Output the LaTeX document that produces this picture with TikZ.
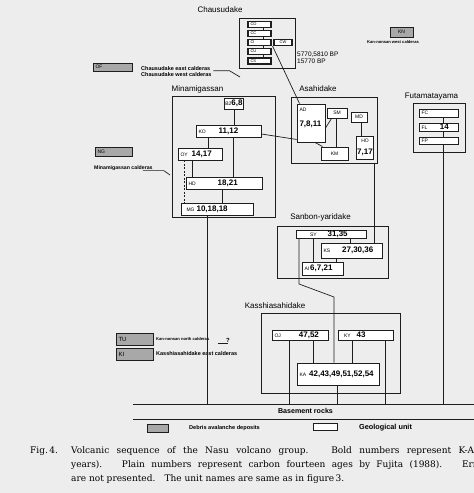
\documentclass[tikz,border=0pt]{standalone}
\usepackage{fontspec}
\setmainfont{DejaVu Serif}
\setsansfont{Liberation Sans}
\usetikzlibrary{calc}
\definecolor{paper}{HTML}{EDEDED}
\definecolor{ink}{HTML}{1E1E1E}
\definecolor{debris}{HTML}{A8A8A8}

\newcommand{\ccode}[1]{{\fontsize{4}{5}\selectfont #1}}
\newcommand{\ucode}[1]{{\fontsize{5}{6}\selectfont #1}}
\newcommand{\uage}[1]{{\fontsize{8}{9}\selectfont\bfseries #1}}

\tikzset{
  frame/.style 2 args={draw=ink, line width=0.7pt, minimum width=#1pt, minimum height=#2pt, inner sep=0pt},
  ubox/.style 2 args={draw=ink, fill=white, line width=0.9pt, minimum width=#1pt, minimum height=#2pt,
    text width=#1pt-5pt, inner xsep=2.5pt, inner ysep=0pt, align=left, font=\sffamily},
  ucbox/.style 2 args={draw=ink, fill=white, line width=0.9pt, minimum width=#1pt, minimum height=#2pt,
    inner sep=0.5pt, align=center, font=\sffamily},
  cbox/.style 2 args={ubox={#1}{#2}, fill=debris},
  title/.style={font=\sffamily\fontsize{8}{9}\selectfont, inner sep=0pt},
  note/.style={font=\sffamily\bfseries\fontsize{#1}{#1}\selectfont, inner sep=0pt},
  link/.style={draw=ink, line width=0.7pt},
  captext/.style={font=\fontsize{9}{14.3}\selectfont, inner sep=0pt},
}

\begin{document}
\begin{tikzpicture}[x=1pt, y=-1pt]
  \fill[paper] (0,0) rectangle (474,493);
  \useasboundingbox (0,0) rectangle (474,493);

  % Chausudake
  \node[frame={56}{50}] (chausu) at (267,43) {};
  \node[title] (chausuT) at (220,10) {Chausudake};
  \foreach \nm/\y in {CO/24.5, CC/33.5, CI/42.5, CU/51.5, CS/61}
    \node[ubox={23}{6}, line width=1.1pt] (\nm) at (259.5,\y) {\ccode{\nm}};
  \node[ucbox={18}{6}, line width=1.1pt] (CW) at (283,42.5) {\ccode{CW}};
  \node[font=\sffamily\fontsize{6.5}{7.5}\selectfont, inner sep=0pt, anchor=west, align=left] (bp) at (297,58) {5770,5810 BP\\15770 BP};

  % calderas, left side
  \node[cbox={39}{8}] (OF) at (112.5,67) {\ucode{OF}};
  \node[note=5.5, anchor=west] (chE) at (141,68.5) {Chausudake east calderas};
  \node[note=5.5, anchor=west] (chW) at (141,75) {Chausudake west calderas};
  \coordinate (chtip) at (240,77);
  \node[cbox={37}{9}] (NG) at (113.5,151.5) {\ucode{NG}};
  \node[note=5.2, anchor=west] (mgC) at (94,168) {Minamigassan calderas};
  \coordinate (mgtip) at (170,175);
  \node[cbox={37}{12}] (TU) at (134.5,339) {\fontsize{6}{7}\selectfont TU};
  \node[cbox={37}{12}] (KI) at (134.5,354) {\fontsize{6}{7}\selectfont KI};
  \node[note=4.1, anchor=west] (tuN) at (156,339) {Kan-nonsan north calderas};
  \node[note=5.5, anchor=west] (kiE) at (156,354) {Kasshiasahidake east calderas};
  \node[note=6] (qm) at (228,340) {?};

  % Kan-nonsan
  \node[cbox={23}{10}, align=center] (KN) at (401.5,32) {\ucode{KN}};
  \node[note=4.1] (knW) at (393,42.5) {Kan-nonsan west calderas};

  % Minamigassan
  \node[frame={103}{121}] (minami) at (223.5,156.5) {};
  \node[title] (minamiT) at (197.5,89) {Minamigassan};
  \node[ucbox={18}{11}] (B26) at (234,103.5) {\ucode{B2}\uage{6,8}};
  \node[ubox={65}{12}] (KO) at (228.5,131) {\ucode{KO}\hspace{13pt}\uage{11,12}};
  \node[ubox={44}{12}] (OY) at (200,154) {\ucode{OY}\hspace{4pt}\uage{14,17}};
  \node[ubox={76}{12}] (HD) at (224,183) {\ucode{HD}\hspace{22pt}\uage{18,21}};
  \node[ubox={72}{12}] (MG) at (217,209) {\hspace{3pt}\ucode{MG}\hspace{2pt}\uage{10,18,18}};

  % Asahidake
  \node[frame={86}{66}] (asahi) at (334,130) {};
  \node[title] (asahiT) at (318,89) {Asahidake};
  \node[ubox={28}{38}] (AD) at (311,123) {\ucode{AD}\\[3pt]\uage{7,8,11}\\[-1.4pt]\mbox{}};
  \node[ucbox={20}{10}] (SM) at (337,113) {\ucode{SM}};
  \node[ucbox={16}{10}] (MD) at (359,117) {\ucode{MD}};
  \node[ucbox={17}{23}] (HO) at (365,147.5) {\ucode{HO}\\[0pt]\uage{7,17}};
  \node[ucbox={27}{13}] (KM) at (334.5,153.5) {\ucode{KM}};

  % Futamatayama
  \node[frame={52}{49}] (futama) at (439,127.5) {};
  \node[title] (futamaT) at (431.5,97) {Futamatayama};
  \node[ubox={39}{8}] (FC) at (438.5,113) {\ucode{FC}};
  \node[ubox={39}{8}] (FL) at (438.5,127) {\ucode{FL}\hspace{12.5pt}\uage{14}};
  \node[ubox={39}{7}] (FP) at (438.5,140.5) {\ucode{FP}};

  % Sanbon-yaridake
  \node[frame={111}{52}] (sanbon) at (332.5,252) {};
  \node[title] (sanbonT) at (320.5,217) {Sanbon-yaridake};
  \node[ubox={70}{8}] (SY) at (331,234) {\hspace{11.5pt}\ucode{SY}\hspace{11pt}\uage{31,35}};
  \node[ubox={61}{15}] (KS) at (351.5,250.5) {\ucode{KS}\hspace{12pt}\uage{27,30,36}};
  \node[ubox={41}{13}] (AI) at (322.5,268.5) {\ucode{AI}\hspace{1pt}\uage{6,7,21}};
  \coordinate (bend1) at (299,284);
  \coordinate (bend2) at (334,297);

  % Kasshiasahidake
  \node[frame={139}{80}] (kasshi) at (330.5,353) {};
  \node[title] (kasshiT) at (275,306) {Kasshiasahidake};
  \node[ubox={56}{10}] (OJ) at (300,335) {\ucode{OJ}\hspace{18pt}\uage{47,52}};
  \node[ubox={55}{10}] (KY) at (365.5,335) {\hspace{3.5pt}\ucode{KY}\hspace{6pt}\uage{43}};
  \node[ubox={82}{22}] (KA) at (338,374) {\ucode{KA}\hspace{3pt}\uage{42,43,49,51,52,54}};

  % basement and legend
  \coordinate (bTL) at (133,404);
  \coordinate (bTR) at (474,404);
  \coordinate (bBL) at (133,419);
  \coordinate (bBR) at (474,419);
  \node[note=7.1] (base) at (305.5,411) {Basement rocks};
  \node[cbox={21}{8}] (legD) at (157.5,428) {};
  \node[note=5.6, anchor=west] (legDT) at (189,428) {Debris avalanche deposits};
  \node[ucbox={24}{7}] (legG) at (325,426.5) {};
  \node[note=7.3, anchor=west] (legGT) at (359,428) {Geological unit};

  % caption
  \node[captext, anchor=base west] (fig) at (30,453) {Fig.\,4.};
  \node[captext, anchor=north west, align=left] (cap) at (71,446)
    {\makebox[403pt][s]{Volcanic sequence of the Nasu volcano group.\hspace{0.6em} Bold numbers represent K-A}\\
     \makebox[406pt][s]{years).\hspace{0.6em} Plain numbers represent carbon fourteen ages by Fujita (1988).\hspace{0.6em} Err}\\
     are not presented.\hspace{0.6em} The unit names are same as in figure\,3.};

  % connectors
  \foreach \a/\b in {CO/CC, CC/CI, CI/CU, CU/CS}
    \draw[link] ([xshift=3.5pt]\a.south) -- ([xshift=3.5pt]\b.north);
  \draw[link] ([xshift=1pt]CI.south east) -- ([xshift=3pt]AD.north west);
  \draw[link] ([xshift=3pt]chE.south east) -- ++(16,0) -- (chtip);
  \draw[link] ([xshift=-10pt]mgC.south east) -- ++(21,0) -- (mgtip);
  \draw[link] ([xshift=-10pt,yshift=-1pt]qm.south) -- ([yshift=-1pt]qm.south);

  \draw[link] (B26.south) -- (B26.south |- KO.north);
  \draw[link] ([xshift=8pt]OY.north) -- ([xshift=8pt]OY.north |- KO.south);
  \draw[link] ([xshift=9pt]HD.north) -- ([xshift=9pt]HD.north |- KO.south);
  \draw[link] ([xshift=-8pt]OY.south) -- ([xshift=-8pt]OY.south |- HD.north);
  \draw[link, dash pattern=on 2pt off 1.5pt] ([xshift=-16pt]OY.south) -- ([xshift=-16pt]OY.south |- MG.north);
  \draw[link] ([xshift=-2pt]HD.south) -- ([xshift=-2pt]HD.south |- MG.north);
  \draw[link] ([xshift=-10pt]MG.south) -- ([xshift=-10pt]MG.south |- bTL);
  \draw[link] ([yshift=-3pt]KO.east) -- ([yshift=3pt]AD.south west);

  \draw[link] ([xshift=4pt]AD.south) -- ([xshift=2pt]KM.north west);
  \draw[link] ([xshift=5pt]SM.south west) -- ([yshift=-5pt]AD.east);
  \draw[link] ([xshift=-1pt]SM.south) -- ([xshift=-1pt]SM.south |- KM.north);
  \draw[link] ([xshift=2pt]MD.south) -- ([xshift=2pt]MD.south |- HO.north);
  \draw[link] ([xshift=-3pt]asahi.south east) -- ([xshift=-3pt]asahi.south east |- KS.north);

  \foreach \a/\b in {FC/FL, FL/FP}
    \draw[link] ([xshift=4.5pt]\a.south) -- ([xshift=4.5pt]\b.north);
  \draw[link] ([xshift=4.5pt]FP.south) -- ([xshift=4.5pt]FP.south |- bTL);

  \draw[link] ([xshift=-1.5pt]KS.north) -- ([xshift=-1.5pt]KS.north |- SY.south);
  \draw[link] ([xshift=-9.5pt]AI.north) -- ([xshift=-9.5pt]AI.north |- SY.south);
  \draw[link] ([xshift=13.5pt]AI.north) -- ([xshift=13.5pt]AI.north |- KS.south);
  \draw[link] (SY.south -| bend1) -- (bend1) -- (bend2) -- (bend2 |- KA.north);

  \draw[link] ([xshift=-25pt]KA.north) -- ([xshift=-25pt]KA.north |- OJ.south);
  \draw[link] ([xshift=14pt]KA.north) -- ([xshift=14pt]KA.north |- KY.south);
  \draw[link] ([xshift=-11pt]OJ.south) -- ([xshift=-11pt]OJ.south |- bTL);
  \draw[link] ([xshift=-1pt]KA.south) -- ([xshift=-1pt]KA.south |- bTL);
  \draw[link] ([xshift=19.5pt]KY.south) -- ([xshift=19.5pt]KY.south |- bTL);

  \draw[link] (bTL) -- (bTR);
  \draw[link] (bBL) -- (bBR);
\end{tikzpicture}
\end{document}
